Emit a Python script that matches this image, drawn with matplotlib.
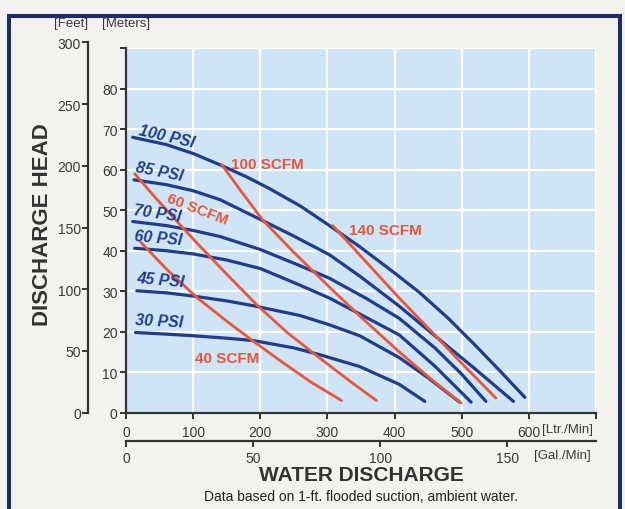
import matplotlib
matplotlib.use("Agg")
import matplotlib.pyplot as plt
from matplotlib.patches import Rectangle

plt.rcParams['font.family'] = ['Liberation Sans', 'DejaVu Sans']

# ---------------- data ----------------
# Flow (L/min) and head (m)
psi_labels = ["100 PSI", "85 PSI", "70 PSI", "60 PSI", "45 PSI", "30 PSI"]

psi100_x = [10, 60, 100, 140, 180, 214, 260, 303, 348, 400, 437, 480, 521, 560, 594]
psi100_y = [68.0, 66.2, 64.0, 61.2, 58.2, 55.3, 51.0, 46.2, 41.0, 34.5, 29.7, 23.3, 16.5, 9.8, 3.8]

psi85_x = [12, 60, 100, 140, 204, 250, 303, 350, 407, 460, 520, 577]
psi85_y = [57.5, 56.3, 54.8, 52.6, 47.4, 43.6, 39.0, 33.5, 26.3, 19.0, 10.8, 2.8]

psi70_x = [10, 60, 100, 140, 200, 259, 303, 358, 407, 460, 500, 536]
psi70_y = [47.2, 46.2, 45.0, 43.5, 40.3, 36.3, 33.2, 28.2, 23.3, 16.0, 9.5, 2.8]

psi60_x = [13, 60, 100, 150, 200, 259, 303, 350, 407, 460, 514]
psi60_y = [40.6, 40.0, 39.2, 37.7, 35.6, 31.5, 28.3, 24.2, 19.2, 11.5, 2.6]

psi45_x = [16, 60, 100, 150, 190, 259, 303, 348, 407, 450, 497]
psi45_y = [30.1, 29.6, 28.8, 27.6, 26.4, 24.0, 21.7, 19.0, 13.6, 8.6, 2.6]

psi30_x = [14, 60, 100, 150, 190, 250, 289, 348, 407, 445]
psi30_y = [19.8, 19.4, 19.0, 18.4, 17.8, 16.0, 14.3, 11.4, 7.0, 2.8]

scfm_labels = ["100 SCFM", "140 SCFM", "60 SCFM", "40 SCFM"]

scfm100_x = [142, 170, 204, 250, 303, 350, 407, 455, 499]
scfm100_y = [61.4, 55.0, 47.5, 39.6, 31.0, 23.6, 15.0, 8.2, 2.4]

scfm140_x = [308, 350, 407, 450, 500, 551]
scfm140_y = [46.2, 38.6, 28.3, 20.9, 12.2, 3.6]

scfm60_x = [13, 40, 70, 105, 150, 195, 240, 290, 335, 373]
scfm60_y = [59.0, 53.8, 48.3, 42.0, 34.2, 26.6, 19.8, 13.3, 7.6, 3.0]

scfm40_x = [22, 60, 105, 150, 190, 230, 275, 321]
scfm40_y = [42.1, 35.5, 28.5, 22.6, 17.6, 12.8, 7.6, 3.0]

ltr_ticks = [0, 100, 200, 300, 400, 500, 600, 700]
ltr_labels = ["0", "100", "200", "300", "400", "500", "600", ""]
m_ticks = [0, 10, 20, 30, 40, 50, 60, 70, 80, 90]
m_labels = ["0", "10", "20", "30", "40", "50", "60", "70", "80", ""]
ft_ticks = [0, 50, 100, 150, 200, 250, 300]
gal_ticks = [0, 50, 100, 150]
L_PER_GAL = 3.7854
FT_PER_M = 3.28084

# ---------------- styling ----------------
W, H = 625, 510
BG = '#f3f2ee'
PLOT_BG = '#cfe4f4'
NAVY = '#1d2c6c'
BLUE = '#1f3c8e'
RED = '#e8563b'
AX = '#333333'
TXT = '#3a3a3a'

def fx(px):
    return px / W

def fy(py):
    return (H - py) / H

fig = plt.figure(figsize=(W / 100, H / 100), dpi=100, facecolor=BG)

y0 = 413.7
x0 = 126.0
x1 = 596.0
m_px = 4.05  # pixels per metre
ax = fig.add_axes([fx(x0), fy(y0), fx(x1) - fx(x0), 90 * m_px / H])
ax.set_facecolor(PLOT_BG)
ax.set_xlim(0, 700)
ax.set_ylim(0, 90)
ax.set_xticks(ltr_ticks)
ax.set_xticklabels(ltr_labels)
ax.set_yticks(m_ticks)
ax.set_yticklabels(m_labels)
ax.grid(True, color='white', lw=1.6)
ax.set_axisbelow(True)
for s in ['top', 'right']:
    ax.spines[s].set_visible(False)
for s in ['left', 'bottom']:
    ax.spines[s].set_color(AX)
    ax.spines[s].set_linewidth(1.6)
ax.tick_params(axis='both', direction='out', length=4, width=1.4, color=AX,
               labelsize=10, labelcolor=TXT)
ax.tick_params(axis='x', pad=5)
ax.tick_params(axis='y', pad=2)

psi_series = [(psi100_x, psi100_y), (psi85_x, psi85_y), (psi70_x, psi70_y),
              (psi60_x, psi60_y), (psi45_x, psi45_y), (psi30_x, psi30_y)]
for xs, ys in psi_series:
    ax.plot(xs, ys, color=BLUE, lw=2.3, solid_capstyle='round',
            solid_joinstyle='round', zorder=3)

scfm_series = [(scfm100_x, scfm100_y), (scfm140_x, scfm140_y),
               (scfm60_x, scfm60_y), (scfm40_x, scfm40_y)]
for xs, ys in scfm_series:
    ax.plot(xs, ys, color=RED, lw=2.0, solid_capstyle='round',
            solid_joinstyle='round', zorder=4)

# curve labels
psi_pos = [(60, 68.4, -13), (50, 59.6, -11), (47, 49.4, -8),
           (48, 43.2, -5), (51, 32.8, -5), (49, 22.6, -3)]
for lab, (lx, ly, rot) in zip(psi_labels, psi_pos):
    ax.text(lx, ly, lab, color=BLUE, fontsize=11.5, fontweight='bold',
            fontstyle='italic', rotation=rot, ha='center', va='center',
            rotation_mode='anchor', zorder=5)

scfm_pos = [(210, 61.4, 0), (386, 45.1, 0), (106, 50.3, -21), (150, 13.5, 0)]
for lab, (lx, ly, rot) in zip(scfm_labels, scfm_pos):
    ax.text(lx, ly, lab, color=RED, fontsize=11, fontweight='bold',
            rotation=rot, ha='center', va='center', rotation_mode='anchor',
            zorder=5)

# feet axis
fax = fig.add_axes([fx(88), fy(y0), 0.0001, 300 / FT_PER_M * m_px / H])
fax.set_ylim(0, 300)
fax.set_yticks(ft_ticks)
fax.patch.set_visible(False)
for s in ['top', 'right', 'bottom']:
    fax.spines[s].set_visible(False)
fax.spines['left'].set_color(AX)
fax.spines['left'].set_linewidth(1.6)
fax.xaxis.set_visible(False)
fax.tick_params(axis='y', direction='out', length=4, width=1.4, color=AX,
                labelsize=10, labelcolor=TXT, pad=1)

# gallons axis
gax = fig.add_axes([fx(x0), fy(442), fx(x1) - fx(x0), 0.0001])
gax.set_xlim(0, 700 / L_PER_GAL)
gax.set_xticks(gal_ticks)
gax.patch.set_visible(False)
for s in ['top', 'right', 'left']:
    gax.spines[s].set_visible(False)
gax.spines['bottom'].set_color(AX)
gax.spines['bottom'].set_linewidth(1.6)
gax.yaxis.set_visible(False)
gax.tick_params(axis='x', direction='out', length=4, width=1.4, color=AX,
                labelsize=10, labelcolor=TXT, pad=3)

# texts
fig.text(fx(542), fy(430), "[Ltr./Min]", fontsize=9.5, color=TXT, ha='left', va='center')
fig.text(fx(534), fy(456), "[Gal./Min]", fontsize=9.5, color=TXT, ha='left', va='center')
fig.text(fx(54), fy(24), "[Feet]", fontsize=9.5, color=TXT, ha='left', va='center')
fig.text(fx(102), fy(24), "[Meters]", fontsize=9.5, color=TXT, ha='left', va='center')
fig.text(fx(43), fy(225), "DISCHARGE HEAD", fontsize=16, fontweight='bold',
         color=AX, rotation=90, ha='center', va='center')
fig.text(fx(361), fy(476), "WATER DISCHARGE", fontsize=15, fontweight='bold',
         color=AX, ha='center', va='center')
fig.text(fx(361), fy(497), "Data based on 1-ft. flooded suction, ambient water.",
         fontsize=10, color='#222222', ha='center', va='center')

# frame
fig.add_artist(Rectangle((fx(8.5), -0.1), fx(619.5) - fx(8.5), fy(17) + 0.1,
                         transform=fig.transFigure, fill=False, ec=NAVY, lw=2.9))

fig.savefig("out.png", dpi=100, facecolor=BG)
